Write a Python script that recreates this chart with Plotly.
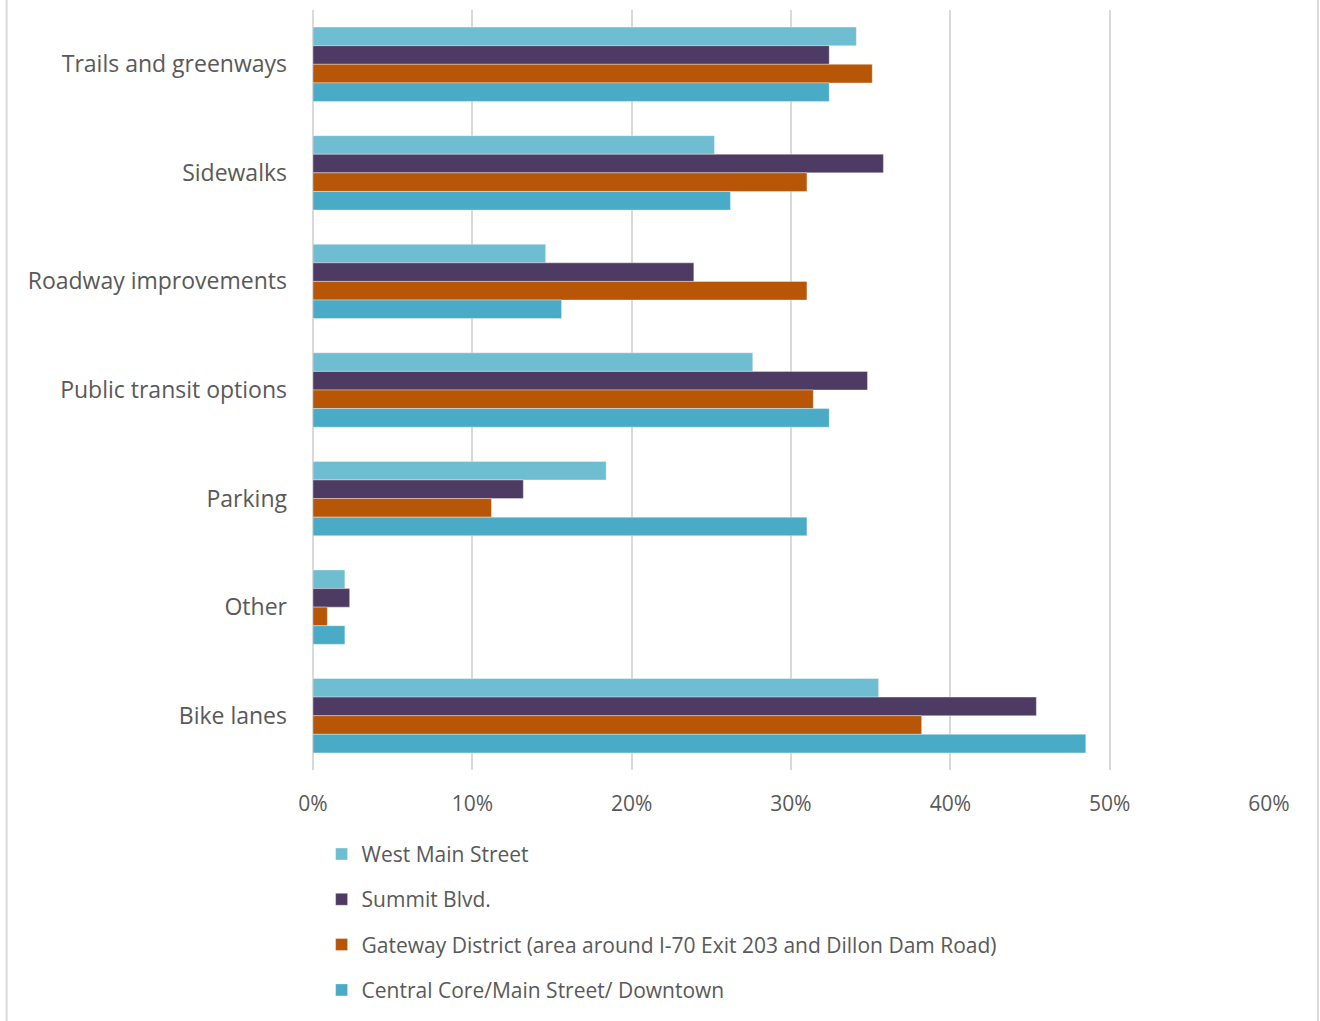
import plotly.graph_objects as go

categories = ["Trails and greenways", "Sidewalks", "Roadway improvements",
              "Public transit options", "Parking", "Other", "Bike lanes"]
series_names = ["West Main Street", "Summit Blvd.",
                "Gateway District (area around I-70 Exit 203 and Dillon Dam Road)",
                "Central Core/Main Street/ Downtown"]
west_main = [34.1, 25.2, 14.6, 27.6, 18.4, 2.0, 35.5]
summit = [32.4, 35.8, 23.9, 34.8, 13.2, 2.3, 45.4]
gateway = [35.1, 31.0, 31.0, 31.4, 11.2, 0.9, 38.2]
central = [32.4, 26.2, 15.6, 32.4, 31.0, 2.0, 48.5]
tick_vals = [0, 10, 20, 30, 40, 50, 60]
tick_text = ["0%", "10%", "20%", "30%", "40%", "50%", "60%"]

colors = ["#6FBDD1", "#4E3B63", "#B75607", "#4AABC6"]
values = [west_main, summit, gateway, central]

fig = go.Figure()
for i, (name, vals) in enumerate(zip(series_names, values)):
    fig.add_trace(go.Bar(
        y=categories, x=vals, name=name, orientation="h",
        marker=dict(color=colors[i], line=dict(color="rgba(255,255,255,0.6)", width=0.6)),
        legendgroup=f"g{i}",
    ))

font_family = "Open Sans, Noto Sans, sans-serif"
fig.update_layout(
    width=1320, height=1021,
    margin=dict(l=313, r=51, t=10, b=249),
    paper_bgcolor="white", plot_bgcolor="white",
    barmode="group", bargap=0.315, bargroupgap=0,
    font=dict(family=font_family, color="#595959", size=21),
    xaxis=dict(range=[0, 60], tickvals=tick_vals, ticktext=tick_text,
               showgrid=True, gridcolor="#D9D9D9", gridwidth=2,
               zeroline=True, zerolinecolor="#D9D9D9", zerolinewidth=2,
               showline=False, ticks="", tickfont=dict(size=21, color="#595959"),
               ticklabelstandoff=19),
    yaxis=dict(autorange="reversed", showgrid=False, ticks="", showline=False,
               tickfont=dict(size=23, color="#595959"), ticklabelstandoff=25),
    legend=dict(x=0.009, y=-0.084, xanchor="left", yanchor="top",
                traceorder="grouped", tracegroupgap=15,
                font=dict(size=21, color="#595959"),
                itemwidth=30, bgcolor="rgba(0,0,0,0)"),
    shapes=[
        dict(type="line", xref="paper", yref="paper", x0=-0.3205, x1=-0.3205, y0=-0.35, y1=1.02,
             line=dict(color="#D9D9D9", width=2)),
        dict(type="line", xref="paper", yref="paper", x0=1.0512, x1=1.0512, y0=-0.35, y1=1.02,
             line=dict(color="#D9D9D9", width=2)),
    ],
)

fig.write_html("out.html", config={"displayModeBar": False},
               post_script="document.body.style.margin='0px';")
